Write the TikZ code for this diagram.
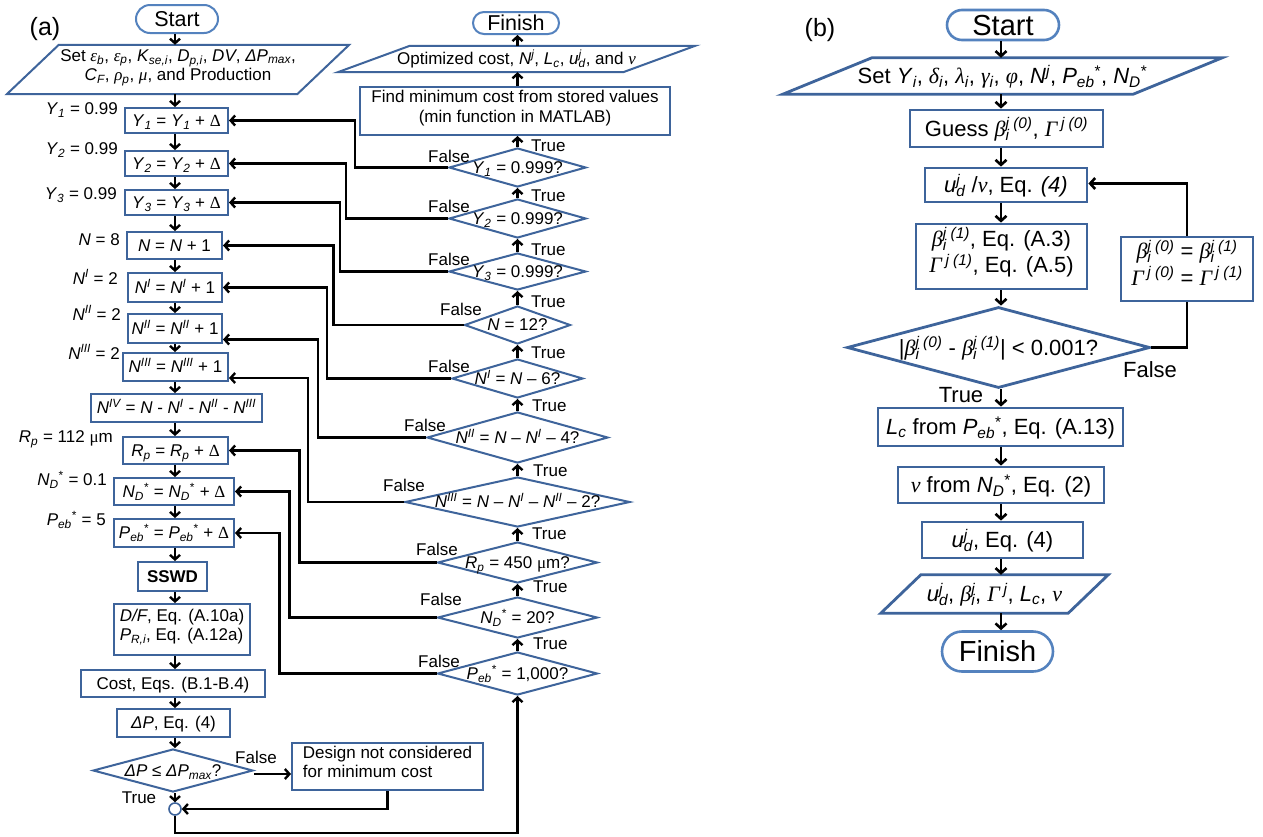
\documentclass[tikz,border=0pt]{standalone}
\usepackage{fontspec}
\setmainfont{Liberation Sans}
\newfontfamily\grk{Liberation Serif}
\usetikzlibrary{shapes.geometric,arrows.meta}
\definecolor{bbl}{RGB}{62,100,155}
\definecolor{tbl}{RGB}{84,130,190}
% italic variable, Greek letters, sub/superscripts
\newcommand\vv[1]{\textit{#1}}
\newcommand\gr[1]{{\grk\itshape #1}}
\newcommand\gu[1]{{\grk #1}}
\newcommand\lo[1]{\textsubscript{\itshape #1}}
\newcommand\hi[1]{\textsuperscript{\itshape #1}}
\newcommand\st{\textsuperscript{*}}
\newcommand\lohi[2]{\setbox0\hbox{\hi{#2}}\setbox2\hbox{\lo{#1}}%
  \ifdim\wd0>\wd2 \rlap{\box2}\box0 \else\rlap{\box0}\box2 \fi}
% zero-size centred text so that shapes keep their own size
\newcommand\ctr[1]{\smash{\makebox[0pt]{\raisebox{-.35em}{#1}}}}
\newcommand\ctrt[1]{\smash{\makebox[0pt]{\raisebox{-.12em}{\begin{tabular}{@{}c@{}}#1\end{tabular}}}}}
\newcommand\ctrl[1]{\smash{\makebox[0pt]{\raisebox{-.12em}{\begin{tabular}{@{}l@{}}#1\end{tabular}}}}}
\begin{document}
\begin{tikzpicture}[x=1pt,y=-1pt,font=\fontsize{17}{19.5}\selectfont,
  box/.style={draw=bbl, line width=2pt, rectangle, inner sep=0pt},
  dia/.style={draw=bbl, line width=2pt, diamond, inner sep=0pt},
  term/.style={draw=tbl, line width=2pt, rectangle, inner sep=0pt},
  pbody/.style={rectangle, inner sep=0pt},
  pline/.style={draw=bbl, line width=2pt, line join=miter},
  arr/.style={line width=2.4pt, -{Straight Barb[length=4.5pt,width=10pt]}},
  ln/.style={line width=2.4pt},
  rbox/.style={draw=bbl, line width=2.8pt, rectangle, inner sep=0pt},
  rdia/.style={draw=bbl, line width=2.8pt, diamond, inner sep=0pt},
  rpline/.style={draw=bbl, line width=2.8pt, line join=miter},
  rarr/.style={line width=2.6pt, -{Straight Barb[length=5pt,width=11pt]}},
  rln/.style={line width=2.6pt},
  lab/.style={inner sep=0pt}]
\useasboundingbox (0,0) rectangle (1263,836);
\fill[white] (0,0) rectangle (1263,836);

\node[lab,font=\fontsize{25}{28}\selectfont] (tagA) at (45,29) {(a)};
\node[lab,font=\fontsize{25}{28}\selectfont] (tagB) at (820,30) {(b)};

% ---------------- panel (a): loop bodies ----------------
\coordinate (sp) at (175,0);
\coordinate (msp) at (517.5,0);
\coordinate (bot) at (0,833);

\node[term, minimum width=82pt, minimum height=28pt, rounded corners=14pt,
      font=\fontsize{21.5}{24}\selectfont] (st) at (177,19) {\ctr{Start}};
\node[pbody, minimum width=290pt, minimum height=49pt] (p1) at (178,69.5)
  {\ctrt{Set \gr{ε}\lo{b}, \gr{ε}\lo{p}, \vv{K}\lo{se,i}, \vv{D}\lo{p,i}, \vv{DV}, \vv{ΔP}\lo{max},\\
   \vv{C}\lo{F}, \gr{ρ}\lo{p}, \gr{μ}, and Production}};
\draw[pline] ([xshift=-26pt]p1.south west) -- ([xshift=-26pt]p1.south east)
  -- ([xshift=26pt]p1.north east) -- ([xshift=26pt]p1.north west) -- cycle;

\node[box, minimum width=103pt, minimum height=25pt] (b1) at (176.5,120.5) {\ctr{\vv{Y}\lo{1} = \vv{Y}\lo{1} + \gu{Δ}}};
\node[box, minimum width=103pt, minimum height=25pt] (b2) at (176.5,163.5) {\ctr{\vv{Y}\lo{2} = \vv{Y}\lo{2} + \gu{Δ}}};
\node[box, minimum width=103pt, minimum height=25pt] (b3) at (176.5,202.5) {\ctr{\vv{Y}\lo{3} = \vv{Y}\lo{3} + \gu{Δ}}};
\node[box, minimum width=95pt, minimum height=27pt] (bN) at (174.5,245.5) {\ctr{\vv{N} = \vv{N} + 1}};
\node[box, minimum width=94pt, minimum height=29pt] (bNI) at (175,287.5) {\ctr{\vv{N}\hi{I} = \vv{N}\hi{I} + 1}};
\node[box, minimum width=94pt, minimum height=29pt] (bNII) at (175,328.5) {\ctr{\vv{N}\hi{II} = \vv{N}\hi{II} + 1}};
\node[box, minimum width=105pt, minimum height=28pt] (bNIII) at (175.5,367) {\ctr{\vv{N}\hi{III} = \vv{N}\hi{III} + 1}};
\node[box, minimum width=171pt, minimum height=28pt] (bNIV) at (176.5,408)
  {\ctr{\vv{N}\hi{IV} = \vv{N} - \vv{N}\hi{I} - \vv{N}\hi{II} - \vv{N}\hi{III}}};
\node[box, minimum width=105pt, minimum height=27pt] (bRp) at (175.5,450.5) {\ctr{\vv{R}\lo{p} = \vv{R}\lo{p} + \gu{Δ}}};
\node[box, minimum width=120pt, minimum height=27pt] (bND) at (174,491.5)
  {\ctr{\vv{N}\lo{D}\st{} = \vv{N}\lo{D}\st{} + \gu{Δ}}};
\node[box, minimum width=120pt, minimum height=28pt] (bPe) at (174,533)
  {\ctr{\vv{P}\lo{eb}\st{} = \vv{P}\lo{eb}\st{} + \gu{Δ}}};
\node[box, minimum width=69pt, minimum height=29pt] (bSS) at (172.5,576.5) {\ctr{\textbf{SSWD}}};
\node[box, minimum width=136pt, minimum height=51pt] (bDF) at (182,629.5)
  {\ctrl{\vv{D/F}, Eq. (A.10a)\\ \vv{P}\lo{R,i}, Eq. (A.12a)}};
\node[box, minimum width=184pt, minimum height=27pt] (bCo) at (173,683.5) {\ctr{Cost, Eqs. (B.1-B.4)}};
\node[box, minimum width=113pt, minimum height=28pt] (bDP) at (173.5,723) {\ctr{\vv{ΔP}, Eq. (4)}};
\node[dia, minimum width=160pt, minimum height=43pt] (dDP) at (173,770.5) {\ctr{\vv{ΔP} ≤ \vv{ΔP}\lo{max}?}};
\node[box, minimum width=191pt, minimum height=47pt] (bDe) at (387.5,766.5)
  {\ctrl{Design not considered\\ for minimum cost}};
\node[circle, draw=bbl, line width=1.6pt, minimum size=12pt, inner sep=0pt, fill=white] (jn) at (175,809) {};

% start values
\node[lab, anchor=east] (lY1) at (118,110) {\vv{Y}\lo{1} = 0.99};
\node[lab, anchor=east] (lY2) at (118,150) {\vv{Y}\lo{2} = 0.99};
\node[lab, anchor=east] (lY3) at (117,195) {\vv{Y}\lo{3} = 0.99};
\node[lab, anchor=east] (lN) at (120,240) {\vv{N} = 8};
\node[lab, anchor=east] (lNI) at (118,277) {\vv{N}\hi{I} = 2};
\node[lab, anchor=east] (lNII) at (121,313) {\vv{N}\hi{II} = 2};
\node[lab, anchor=east] (lNIII) at (120,352) {\vv{N}\hi{III} = 2};
\node[lab, anchor=east] (lRp) at (113,439) {\vv{R}\lo{p} = 112 \gu{μ}m};
\node[lab, anchor=east] (lND) at (107,480) {\vv{N}\lo{D}\st{} = 0.1};
\node[lab, anchor=east] (lPe) at (106,520) {\vv{P}\lo{eb}\st{} = 5};

% main column arrows
\draw[arr] (st.south -| sp) -- (p1.north -| sp);
\draw[arr] (p1.south -| sp) -- (b1.north -| sp);
\draw[arr] (b1.south -| sp) -- (b2.north -| sp);
\draw[arr] (b2.south -| sp) -- (b3.north -| sp);
\draw[arr] (b3.south -| sp) -- (bN.north -| sp);
\draw[arr] (bN.south -| sp) -- (bNI.north -| sp);
\draw[arr] (bNI.south -| sp) -- (bNII.north -| sp);
\draw[arr] (bNII.south -| sp) -- (bNIII.north -| sp);
\draw[arr] (bNIII.south -| sp) -- (bNIV.north -| sp);
\draw[arr] (bNIV.south -| sp) -- (bRp.north -| sp);
\draw[arr] (bRp.south -| sp) -- (bND.north -| sp);
\draw[arr] (bND.south -| sp) -- (bPe.north -| sp);
\draw[arr] (bPe.south -| sp) -- (bSS.north -| sp);
\draw[arr] (bSS.south -| sp) -- (bDF.north -| sp);
\draw[arr] (bDF.south -| sp) -- (bCo.north -| sp);
\draw[arr] (bCo.south -| sp) -- (bDP.north -| sp);
\draw[arr] (bDP.south -| sp) -- (dDP.north -| sp);
\draw[arr] (dDP.south -| sp) -- (jn.north);
\draw[arr] ([yshift=-3.5pt]dDP.east) -- ([yshift=-3.5pt]dDP.east -| bDe.west);
\draw[arr] (bDe.south) |- (jn.east);
\node[lab] (fDP) at (256,757) {False};
\node[lab] (tDP) at (139,798) {True};

% ---------------- panel (a): loop tests ----------------
\node[term, minimum width=86pt, minimum height=22pt, rounded corners=11pt,
      font=\fontsize{21.5}{24}\selectfont] (fin) at (516,23) {\ctr{Finish}};
\node[pbody, minimum width=285pt, minimum height=26pt] (p2) at (516.5,59)
  {\ctr{Optimized cost, \vv{N}\hi{j}, \vv{L}\lo{c}, \vv{u}\lohi{d}{j}, and \gr{ν}}};
\draw[pline] ([xshift=-36pt]p2.south west) -- ([xshift=-36pt]p2.south east)
  -- ([xshift=36pt]p2.north east) -- ([xshift=36pt]p2.north west) -- cycle;
\node[box, minimum width=310pt, minimum height=48pt] (bFi) at (515,111)
  {\ctrt{Find minimum cost from stored values\\ (min function in MATLAB)}};

\node[dia, minimum width=137pt, minimum height=39pt] (d1) at (517.5,167.5) {\ctr{\vv{Y}\lo{1} = 0.999?}};
\node[dia, minimum width=137pt, minimum height=39pt] (d2) at (517.5,218.5) {\ctr{\vv{Y}\lo{2} = 0.999?}};
\node[dia, minimum width=137pt, minimum height=37pt] (d3) at (517.5,271.5) {\ctr{\vv{Y}\lo{3} = 0.999?}};
\node[dia, minimum width=106pt, minimum height=38pt] (d4) at (517.5,325) {\ctr{\vv{N} = 12?}};
\node[dia, minimum width=131pt, minimum height=39pt] (d5) at (517.5,378.5) {\ctr{\vv{N}\hi{I} = \vv{N} – 6?}};
\node[dia, minimum width=181pt, minimum height=51pt] (d6) at (517.5,437.5)
  {\ctr{\vv{N}\hi{II} = \vv{N} – \vv{N}\hi{I} – 4?}};
\node[dia, minimum width=225pt, minimum height=50pt] (d7) at (517.5,502)
  {\ctr{\vv{N}\hi{III} = \vv{N} – \vv{N}\hi{I} – \vv{N}\hi{II} – 2?}};
\node[dia, minimum width=160pt, minimum height=41pt] (d8) at (517.5,562.5) {\ctr{\vv{R}\lo{p} = 450 \gu{μ}m?}};
\node[dia, minimum width=160pt, minimum height=41pt] (d9) at (517.5,617.5) {\ctr{\vv{N}\lo{D}\st{} = 20?}};
\node[dia, minimum width=160pt, minimum height=43pt] (d10) at (517.5,673.5) {\ctr{\vv{P}\lo{eb}\st{} = 1,000?}};

% upward chain of tests
\draw[arr] (bFi.north -| msp) -- (p2.south -| msp);
\draw[arr] (p2.north -| msp) -- (fin.south -| msp);
\draw[arr] (d1.north) -- (bFi.south -| msp);
\draw[arr] (d2.north) -- (d1.south);
\draw[arr] (d3.north) -- (d2.south);
\draw[arr] (d4.north) -- (d3.south);
\draw[arr] (d5.north) -- (d4.south);
\draw[arr] (d6.north) -- (d5.south);
\draw[arr] (d7.north) -- (d6.south);
\draw[arr] (d8.north) -- (d7.south);
\draw[arr] (d9.north) -- (d8.south);
\draw[arr] (d10.north) -- (d9.south);
\draw[arr] (jn.south) -- (jn.south |- bot) -| (d10.south);

\node[lab, anchor=west] (t0) at (531,146) {True};
\node[lab, anchor=west] (t1) at (531,196) {True};
\node[lab, anchor=west] (t2) at (531,250) {True};
\node[lab, anchor=west] (t3) at (531,302) {True};
\node[lab, anchor=west] (t4) at (531,353) {True};
\node[lab, anchor=west] (t5) at (532,406) {True};
\node[lab, anchor=west] (t6) at (533,471) {True};
\node[lab, anchor=west] (t7) at (532,534) {True};
\node[lab, anchor=west] (t8) at (533,587) {True};
\node[lab, anchor=west] (t9) at (533,644) {True};

% false branches back to the increments
\draw[arr] (d1.west) -- ++(-93,0) |- (b1.east);
\draw[arr] (d2.west) -- ++(-102,0) |- (b2.east);
\draw[arr] (d3.west) -- ++(-108,0) |- (b3.east);
\draw[arr] (d4.west) -- ++(-130,0) |- (bN.east);
\draw[arr] (d5.west) -- ++(-124,0) |- (bNI.east);
\draw[arr] (d6.west) -- ++(-108,0) |- ([yshift=-11pt]bNII.east);
\draw[arr] (d7.west) -- ++(-96,0) |- ([yshift=-11pt]bNIII.east);
\draw[arr] (d8.west) -- ++(-137,0) |- (bRp.east);
\draw[arr] (d9.west) -- ++(-147,0) |- (bND.east);
\draw[arr] (d10.west) -- ++(-157,0) |- (bPe.east);

\node[lab] (f1) at (449,156) {False};
\node[lab] (f2) at (449,206) {False};
\node[lab] (f3) at (449,259) {False};
\node[lab] (f4) at (461,309) {False};
\node[lab] (f5) at (449,366) {False};
\node[lab] (f6) at (425,425) {False};
\node[lab] (f7) at (404,485) {False};
\node[lab] (f8) at (437,549) {False};
\node[lab] (f9) at (441,599) {False};
\node[lab] (f10) at (439,661) {False};

% ---------------- panel (b) ----------------
\begin{scope}[font=\fontsize{22}{25.5}\selectfont]
\coordinate (rsp) at (1001,0);
\node[term, line width=2.6pt, minimum width=112pt, minimum height=30pt, rounded corners=15pt,
      font=\fontsize{29}{32}\selectfont] (rSt) at (1003,25) {\ctr{Start}};
\node[pbody, minimum width=350pt, minimum height=36pt] (p3) at (1002.5,76)
  {\ctr{Set \vv{Y}\lo{i}, \gr{δ}\lo{i}, \gr{λ}\lo{i}, \gr{γ}\lo{i}, \gr{φ}, \vv{N}\hi{j}, \vv{P}\lo{eb}\st{}, \vv{N}\lo{D}\st{}}};
\draw[rpline] ([xshift=-44.5pt]p3.south west) -- ([xshift=-44.5pt]p3.south east)
  -- ([xshift=44.5pt]p3.north east) -- ([xshift=44.5pt]p3.north west) -- cycle;
\node[rbox, minimum width=193pt, minimum height=37pt] (rGu) at (1006.5,128.5)
  {\ctr{Guess \gr{β}\lohi{i}{j (0)}, \gr{Γ}\,\hi{j (0)}}};
\node[rbox, minimum width=162pt, minimum height=34pt] (rUd) at (1006,185)
  {\ctr{\vv{u}\lohi{d}{j} /\gr{ν}, Eq. \textit{(4)}}};
\node[rbox, minimum width=171pt, minimum height=65pt] (rBe) at (1001.5,256.5)
  {\ctrt{\gr{β}\lohi{i}{j (1)}, Eq. (A.3)\\ \gr{Γ}\,\hi{j (1)}, Eq. (A.5)}};
\node[rdia, minimum width=303pt, minimum height=81pt] (rDi) at (998.5,347.5)
  {\ctr{|\gr{β}\lohi{i}{j (0)} - \gr{β}\lohi{i}{j (1)}| < 0.001?}};
\node[rbox, minimum width=132pt, minimum height=64pt] (rUp) at (1187,269)
  {\ctrt{\gr{β}\lohi{i}{j (0)} = \gr{β}\lohi{i}{j (1)}\\ \gr{Γ}\,\hi{j (0)} = \gr{Γ}\,\hi{j (1)}}};
\node[rbox, minimum width=245pt, minimum height=38pt] (rLc) at (1000.5,427)
  {\ctr{\vv{L}\lo{c} from \vv{P}\lo{eb}\st{}, Eq. (A.13)}};
\node[rbox, minimum width=206pt, minimum height=36pt] (rNu) at (1001,485)
  {\ctr{\gr{ν} from \vv{N}\lo{D}\st{}, Eq. (2)}};
\node[rbox, minimum width=161pt, minimum height=36pt] (rU2) at (1002.5,540)
  {\ctr{\vv{u}\lohi{d}{j}, Eq. (4)}};
\node[pbody, minimum width=187pt, minimum height=38pt] (p4) at (994.5,594)
  {\ctr{\vv{u}\lohi{d}{j}, \gr{β}\lohi{i}{j}, \gr{Γ}\,\hi{j}, \vv{L}\lo{c}, \gr{ν}}};
\draw[rpline] ([xshift=-20pt]p4.south west) -- ([xshift=-20pt]p4.south east)
  -- ([xshift=20pt]p4.north east) -- ([xshift=20pt]p4.north west) -- cycle;
\node[term, line width=2.6pt, minimum width=111pt, minimum height=40pt, rounded corners=20pt,
      font=\fontsize{29}{32}\selectfont] (rFi) at (997.5,651.5) {\ctr{Finish}};

\draw[rarr] (rSt.south -| rsp) -- (p3.north -| rsp);
\draw[rarr] (p3.south -| rsp) -- (rGu.north -| rsp);
\draw[rarr] (rGu.south -| rsp) -- (rUd.north -| rsp);
\draw[rarr] (rUd.south -| rsp) -- (rBe.north -| rsp);
\draw[rarr] (rBe.south -| rsp) -- (rDi.north -| rsp);
\draw[rarr] (rDi.south -| rsp) -- (rLc.north -| rsp);
\draw[rarr] (rLc.south -| rsp) -- (rNu.north -| rsp);
\draw[rarr] (rNu.south -| rsp) -- (rU2.north -| rsp);
\draw[rarr] (rU2.south -| rsp) -- (p4.north -| rsp);
\draw[rarr] (p4.south -| rsp) -- (rFi.north -| rsp);
\draw[rln] (rDi.east) -| (rUp.south);
\draw[rarr] (rUp.north) |- ([yshift=1.5pt]rUd.east);
\node[lab] (rF) at (1150,370) {False};
\node[lab] (rT) at (961,395) {True};
\end{scope}
\end{tikzpicture}
\end{document}
